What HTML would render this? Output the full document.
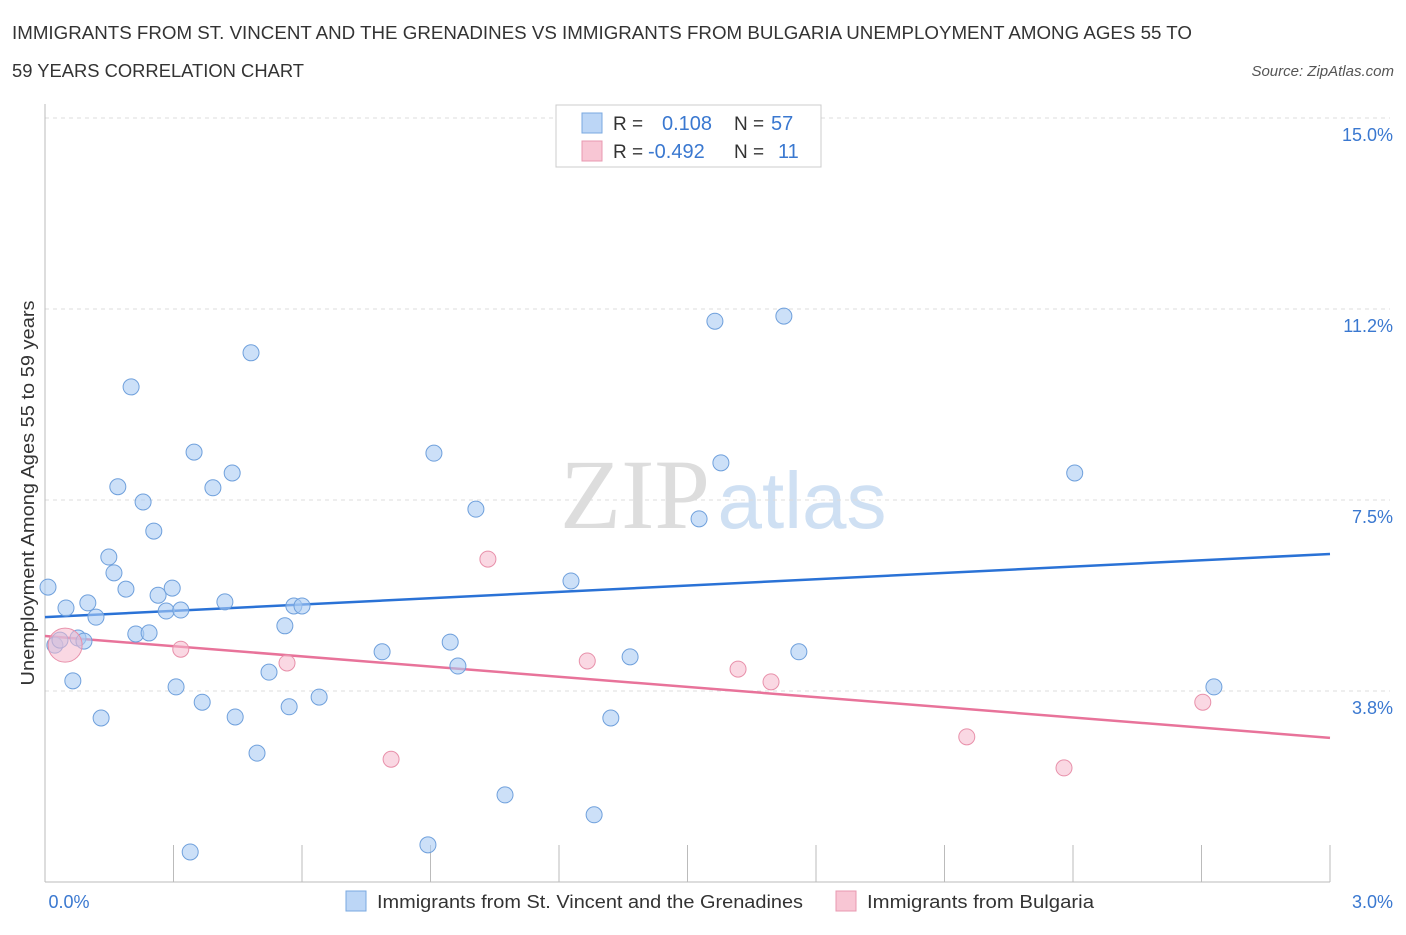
<!DOCTYPE html>
<html><head><meta charset="utf-8"><style>
body{margin:0;background:#fff;font-family:"Liberation Sans",sans-serif;}
svg text{font-family:"Liberation Sans",sans-serif;}
</style></head><body>
<svg id="chart" width="1406" height="930">
<text x="12" y="39" font-size="18" fill="#333" textLength="1180" lengthAdjust="spacingAndGlyphs">IMMIGRANTS FROM ST. VINCENT AND THE GRENADINES VS IMMIGRANTS FROM BULGARIA UNEMPLOYMENT AMONG AGES 55 TO</text>
<text x="12" y="77" font-size="18" fill="#333" textLength="292" lengthAdjust="spacingAndGlyphs">59 YEARS CORRELATION CHART</text>
<text x="1394" y="76" font-size="15" fill="#555" font-style="italic" text-anchor="end">Source: ZipAtlas.com</text>
<text x="635" y="528" font-size="100" fill="#ddd" text-anchor="middle" style="font-family:'Liberation Serif',serif">ZIP</text>
<text x="802" y="528" font-size="80" fill="#cfe0f3" text-anchor="middle">atlas</text>
<g id="grid"></g>
<g id="axes"></g>
<g id="trend"></g>
<g id="points"></g>
<text transform="translate(34,493) rotate(-90)" font-size="18" fill="#333" text-anchor="middle" textLength="385" lengthAdjust="spacingAndGlyphs">Unemployment Among Ages 55 to 59 years</text>
<g>
<rect x="556" y="105" width="265" height="62" fill="#fff" stroke="#ccc"/>
<rect x="582" y="113" width="20" height="20" fill="#bcd6f6" stroke="#7aa8e0"/>
<text x="613" y="130" font-size="19" fill="#333">R =</text>
<text x="662" y="130" font-size="20" fill="#3a78d0">0.108</text>
<text x="734" y="130" font-size="19" fill="#333">N =</text>
<text x="771" y="130" font-size="20" fill="#3a78d0">57</text>
<rect x="582" y="141" width="20" height="20" fill="#f8c6d4" stroke="#e898b0"/>
<text x="613" y="158" font-size="19" fill="#333">R =</text>
<text x="648" y="158" font-size="20" fill="#3a78d0">-0.492</text>
<text x="734" y="158" font-size="19" fill="#333">N =</text>
<text x="778" y="158" font-size="20" fill="#3a78d0">11</text>
</g>
<g>
<rect x="346" y="891" width="20" height="20" fill="#bcd6f6" stroke="#7aa8e0"/>
<text x="377" y="908" font-size="18" fill="#333" textLength="426" lengthAdjust="spacingAndGlyphs">Immigrants from St. Vincent and the Grenadines</text>
<rect x="836" y="891" width="20" height="20" fill="#f8c6d4" stroke="#e898b0"/>
<text x="867" y="908" font-size="18" fill="#333" textLength="227" lengthAdjust="spacingAndGlyphs">Immigrants from Bulgaria</text>
</g>
</svg>
<script>
const yTicks=[3.75,7.5,11.25,15.0];
const yTickLabels=["3.8%","7.5%","11.2%","15.0%"];
const xTickCount=10;
const xLabels=["0.0%","3.0%"];
const blueX=[0.007,0.023,0.035,0.049,0.065,0.077,0.091,0.100,0.119,0.131,0.149,0.161,0.170,0.189,0.201,0.212,0.229,0.243,0.254,0.264,0.283,0.297,0.306,0.317,0.339,0.348,0.367,0.392,0.420,0.437,0.444,0.481,0.495,0.523,0.560,0.570,0.581,0.600,0.640,0.787,0.894,0.908,0.946,0.964,1.006,1.074,1.228,1.282,1.321,1.366,1.527,1.564,1.578,1.725,1.760,2.404,2.729];
const blueY=[5.79,4.65,4.75,5.38,3.95,4.79,4.73,5.48,5.20,3.22,6.38,6.07,7.76,5.75,9.72,4.87,7.46,4.89,6.89,5.63,5.32,5.77,3.83,5.34,0.59,8.44,3.53,7.74,5.50,8.03,3.24,10.39,2.53,4.12,5.03,3.44,5.42,5.42,3.63,4.52,0.73,8.42,4.71,4.24,7.32,1.71,5.91,1.32,3.22,4.42,7.13,11.01,8.23,11.11,4.52,8.03,3.83];
const pinkX=[0.047,0.317,0.565,0.808,1.034,1.266,1.618,1.695,2.152,2.379,2.703];
const pinkY=[4.65,4.57,4.30,2.41,6.34,4.34,4.18,3.93,2.85,2.24,3.53];
const pinkR=[17,8,8,8,8,8,8,8,8,8,8];
const blueTrend=[5.20,6.44];
const pinkTrend=[4.83,2.83];
const NS="http://www.w3.org/2000/svg";
const X0=45,X1=1330,Y0=882,YTOP=118;
function sx(v){return X0+v/3*(X1-X0);}
function sy(v){return Y0-v/15*(Y0-YTOP);}
function mk(tag,attrs,parent){const e=document.createElementNS(NS,tag);for(const k in attrs)e.setAttribute(k,attrs[k]);document.getElementById(parent).appendChild(e);return e;}
yTicks.forEach((t,i)=>{
 const l=mk('line',{x1:X0,x2:X1+60,y1:sy(t),y2:sy(t),stroke:'#ddd','stroke-dasharray':'4,4'},'grid');
 
 
 const tx=mk('text',{x:1393,y:sy(t)+23,'font-size':18,fill:'#3a78d0','text-anchor':'end'},'grid');
 tx.textContent=yTickLabels[i];
 
 
});
const ya=mk('line',{x1:X0,x2:X0,y1:104,y2:Y0,stroke:'#bbb'},'axes');


const xa=mk('line',{x1:X0,x2:X1,y1:Y0,y2:Y0,stroke:'#bbb'},'axes');


for(let i=0;i<=xTickCount;i++){
 const x=sx(3*i/xTickCount);
 const t=mk('line',{x1:x,x2:x,y1:Y0-37,y2:Y0,stroke:'#bbb'},'axes');
 
 
}
[[xLabels[0],69,'middle'],[xLabels[1],1393,'end']].forEach(a=>{
 const t=mk('text',{x:a[1],y:908,'font-size':18,fill:'#3a78d0','text-anchor':a[2]},'axes');
 t.textContent=a[0];
 
 
});
const bl=mk('line',{x1:sx(0),x2:sx(3),y1:sy(blueTrend[0]),y2:sy(blueTrend[1]),stroke:'#2a72d6','stroke-width':2.5},'trend');


const pl=mk('line',{x1:sx(0),x2:sx(3),y1:sy(pinkTrend[0]),y2:sy(pinkTrend[1]),stroke:'#e8739a','stroke-width':2.5},'trend');


blueX.forEach((v,i)=>{
 const c=mk('circle',{cx:sx(v),cy:sy(blueY[i]),r:8,fill:'rgba(170,204,243,0.6)',stroke:'#6fa0dc','stroke-width':1},'points');
 
 
});
pinkX.forEach((v,i)=>{
 const c=mk('circle',{cx:sx(v),cy:sy(pinkY[i]),r:pinkR[i],fill:'rgba(246,184,204,0.55)',stroke:'#e890aa','stroke-width':1},'points');
 
 
});
</script>
</body></html>
